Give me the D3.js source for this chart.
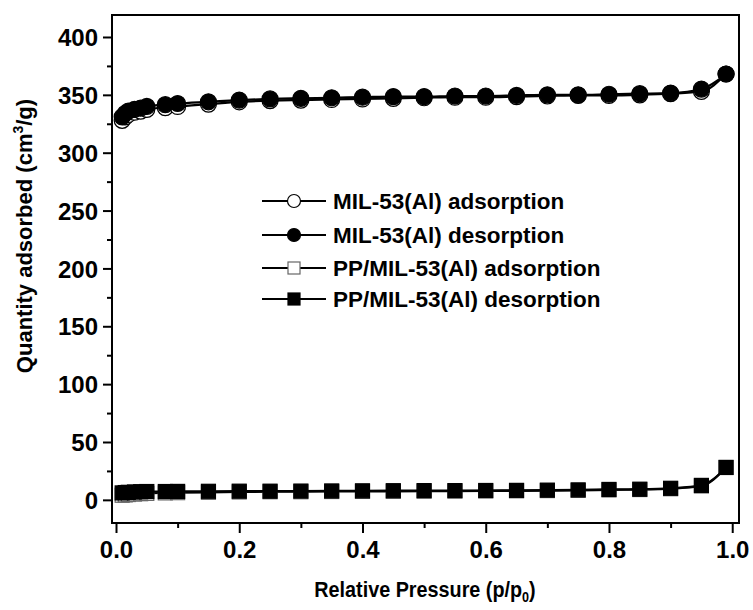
<!DOCTYPE html>
<html>
<head>
<meta charset="utf-8">
<script src="https://cdn.jsdelivr.net/npm/d3@7"></script>
<style>
  body { margin: 0; background: #fff; }
  text { font-family: "Liberation Sans", Arial, sans-serif; font-weight: bold; fill: #000; }
</style>
</head>
<body>
<div class="chart"></div>
<script>
// relative pressure points (p/p0)
const pressure = [0.01, 0.015, 0.02, 0.03, 0.04, 0.05, 0.08, 0.1, 0.15, 0.2, 0.25, 0.3, 0.35,
  0.4, 0.45, 0.5, 0.55, 0.6, 0.65, 0.7, 0.75, 0.8, 0.85, 0.9, 0.95, 0.99];

const milAds = [328, 331, 333, 335, 336, 337.5, 339, 340, 342, 344, 345, 345.5, 346,
  346.5, 347, 347.5, 348, 348, 348.5, 349, 349.5, 349.5, 350, 351, 353, 368];
const milDes = [331, 334, 336, 337.5, 338.5, 340, 341.5, 342.5, 344, 345.5, 346.5, 347, 347.5,
  348, 348.5, 348.5, 349, 349, 349.5, 350, 350, 350.5, 351, 351.5, 355, 368];
const ppAds = [4, 4.3, 4.6, 5, 5.3, 5.6, 6, 6.2, 6.5, 6.8, 7, 7, 7.2,
  7.3, 7.4, 7.5, 7.6, 7.7, 7.8, 8, 8.2, 8.6, 8.9, 9.6, 12, 28];
const ppDes = [6, 6.3, 6.5, 6.8, 7, 7.2, 7.2, 7.3, 7.4, 7.5, 7.5, 7.6, 7.7,
  7.8, 7.9, 8, 8, 8.1, 8.2, 8.4, 8.6, 9, 9.2, 10, 12.5, 28];

const seriesNames = ["MIL-53(Al) adsorption", "MIL-53(Al) desorption",
  "PP/MIL-53(Al) adsorption", "PP/MIL-53(Al) desorption"];

const xTicks = [0, 0.2, 0.4, 0.6, 0.8, 1.0];
const xMinor = [0.1, 0.3, 0.5, 0.7, 0.9];
const yTicks = [0, 50, 100, 150, 200, 250, 300, 350, 400];
const yMinor = [25, 75, 125, 175, 225, 275, 325, 375];

const width = 753, height = 610;
const dim = { left: 112, right: 739, top: 15, bottom: 523 };

const series = [
  { name: seriesNames[0], values: milAds, shape: "circle", filled: false },
  { name: seriesNames[1], values: milDes, shape: "circle", filled: true },
  { name: seriesNames[2], values: ppAds, shape: "square", filled: false },
  { name: seriesNames[3], values: ppDes, shape: "square", filled: true }
];

const x = d3.scaleLinear().domain([-0.0065, 1.011]).range([dim.left, dim.right]);
const y = d3.scaleLinear().domain([-20, 419]).range([dim.bottom, dim.top]);

const svg = d3.select(".chart").append("svg")
  .attr("width", width)
  .attr("height", height);

// curves and markers
const line = d3.line()
  .x(d => x(d[0]))
  .y(d => y(d[1]))
  .curve(d3.curveMonotoneX);

const drawMarker = (g, s, cx, cy, size) => {
  if (s.shape == "circle") {
    g.append("circle")
      .attr("cx", cx).attr("cy", cy).attr("r", size)
      .attr("fill", s.filled ? "#000" : "#fff")
      .attr("stroke", "#000").attr("stroke-width", 1.2);
  } else {
    g.append("rect")
      .attr("x", cx - size).attr("y", cy - size)
      .attr("width", size * 2).attr("height", size * 2)
      .attr("fill", s.filled ? "#000" : "#fff")
      .attr("stroke", s.filled ? "#000" : "#666").attr("stroke-width", 1.2);
  }
};

for (let s of series) {
  const pts = pressure.map((p, i) => [p, s.values[i]]);
  const g = svg.append("g");
  g.append("path")
    .datum(pts)
    .attr("d", line)
    .attr("fill", "none")
    .attr("stroke", "#000")
    .attr("stroke-width", 2.2);
  for (let p of pts) drawMarker(g, s, x(p[0]), y(p[1]), s.shape == "circle" ? 8 : 7);
}

// frame
svg.append("rect")
  .attr("x", dim.left).attr("y", dim.top)
  .attr("width", dim.right - dim.left).attr("height", dim.bottom - dim.top)
  .attr("fill", "none").attr("stroke", "#000").attr("stroke-width", 2);

// axes
const xAxis = svg.append("g").attr("transform", `translate(0,${dim.bottom})`)
  .call(d3.axisBottom(x).tickValues(xTicks).tickSize(10).tickFormat(d3.format(".1f")));
const xAxisMinor = svg.append("g").attr("transform", `translate(0,${dim.bottom})`)
  .call(d3.axisBottom(x).tickValues(xMinor).tickSize(5).tickFormat(""));
const yAxis = svg.append("g").attr("transform", `translate(${dim.left},0)`)
  .call(d3.axisLeft(y).tickValues(yTicks).tickSize(9));
const yAxisMinor = svg.append("g").attr("transform", `translate(${dim.left},0)`)
  .call(d3.axisLeft(y).tickValues(yMinor).tickSize(5).tickFormat(""));

for (let a of [xAxis, xAxisMinor, yAxis, yAxisMinor]) {
  a.select(".domain").remove();
  a.selectAll(".tick line").attr("stroke", "#000").attr("stroke-width", 2);
}
xAxis.selectAll("text")
  .attr("font-size", "24px").attr("dy", null).attr("y", 35)
  .style("font-family", "Liberation Sans, Arial, sans-serif").style("font-weight", "bold");
yAxis.selectAll("text")
  .attr("font-size", "24px").attr("x", -14).attr("dy", "0.36em")
  .style("font-family", "Liberation Sans, Arial, sans-serif").style("font-weight", "bold");

// axis titles
const xTitle = svg.append("text")
  .attr("transform", "translate(425,597) scale(0.9,1)")
  .attr("text-anchor", "middle")
  .attr("font-size", "22px");
xTitle.append("tspan").text("Relative Pressure (p/p");
xTitle.append("tspan").attr("font-size", "14px").attr("dy", 5).text("0");
xTitle.append("tspan").attr("dy", -5).text(")");

const yTitle = svg.append("text")
  .attr("transform", "translate(32,236) rotate(-90)")
  .attr("text-anchor", "middle")
  .attr("font-size", "22px");
yTitle.append("tspan").text("Quantity adsorbed (cm");
yTitle.append("tspan").attr("font-size", "14px").attr("dy", -9).text("3");
yTitle.append("tspan").attr("dy", 9).text("/g)");

// legend
const legendY = [201, 235, 268, 299];
series.forEach((s, i) => {
  const g = svg.append("g");
  g.append("line")
    .attr("x1", 262).attr("x2", 326)
    .attr("y1", legendY[i]).attr("y2", legendY[i])
    .attr("stroke", "#000").attr("stroke-width", 2.2);
  drawMarker(g, s, 294, legendY[i], s.shape == "circle" ? 6.5 : 6);
  g.append("text")
    .attr("x", 333).attr("y", legendY[i])
    .attr("dy", "0.36em")
    .attr("font-size", "22.5px")
    .text(s.name);
});
</script>
</body>
</html>
